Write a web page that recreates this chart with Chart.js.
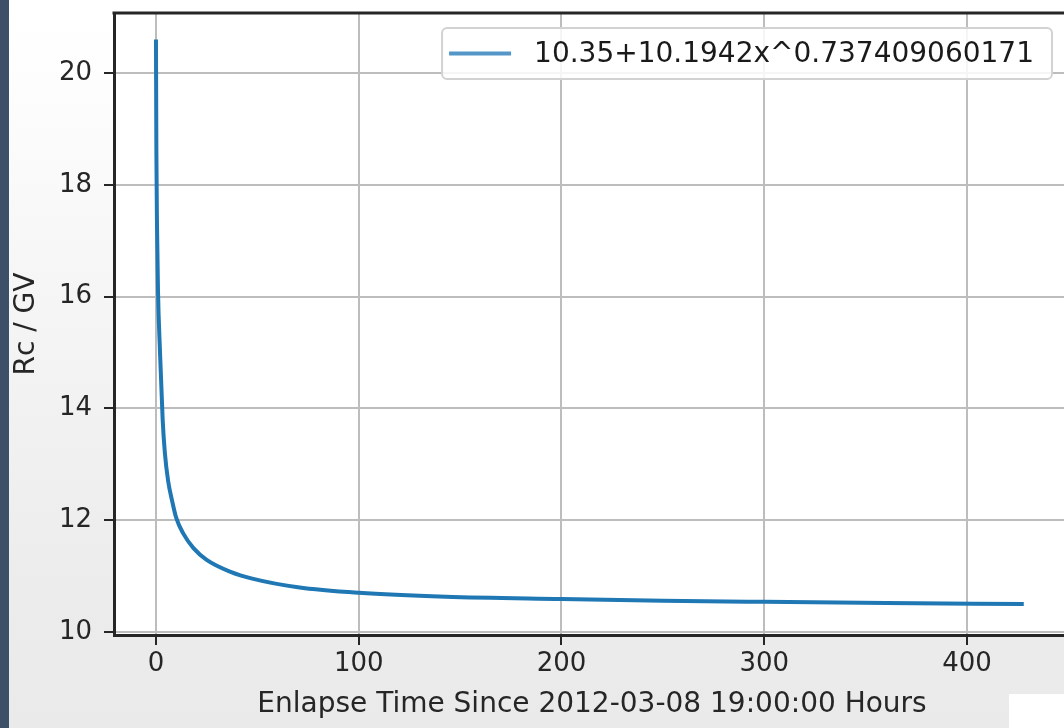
<!DOCTYPE html>
<html>
<head>
<meta charset="utf-8">
<script src="https://cdn.jsdelivr.net/npm/chart.js@4.4.0/dist/chart.umd.min.js"></script>
<style>
  html, body { margin: 0; padding: 0; }
  body {
    width: 1064px; height: 728px; overflow: hidden; position: relative;
    background: linear-gradient(#ffffff 0%, #fdfdfd 11%, #f3f3f3 50%, #ececec 80%, #eaeaea 100%);
  }
  #wrap { position: absolute; left: 0; top: 0; width: 1070px; height: 728px; }
  #strip { position: absolute; left: 0; top: 0; width: 9px; height: 728px; background: #3e4f68; }
  #patch { position: absolute; left: 1009px; top: 694px; width: 55px; height: 34px; background: #fff; }
</style>
</head>
<body>
<div id="wrap"><canvas id="rcChart" width="1070" height="728"></canvas></div>
<div id="strip"></div>
<div id="patch"></div>
<script>
// values
const timeHours = [0, 0.2, 0.5, 1, 2, 3.3, 4.4, 6, 8, 10, 13.5, 18.5, 25, 36.5, 48, 70, 100, 143, 200, 250, 300, 360, 428];
const rcValues = [20.6, 18.6, 17.3, 16.1, 15.0, 13.8, 13.2, 12.7, 12.34, 12.04, 11.76, 11.50, 11.29, 11.08, 10.95, 10.80, 10.70, 10.63, 10.59, 10.56, 10.54, 10.52, 10.50];

const xTickValues = [0, 100, 200, 300, 400];
const yTickValues = [10, 12, 14, 16, 18, 20];

const seriesLabel = "10.35+10.1942x^0.737409060171";
const xTitle = "Enlapse Time Since 2012-03-08 19:00:00 Hours";
const yTitle = "Rc / GV";

const FONT = "DejaVu Sans";
const INK = "#262626";
const GRID = "#bdbdbd";
const LINE = "#1f77b4";

const frameAndLegend = {
  id: "frameAndLegend",
  beforeDraw(chart) {
    const { ctx, chartArea: a } = chart;
    ctx.save();
    ctx.fillStyle = "#fff";
    ctx.fillRect(a.left, a.top, a.right - a.left, a.bottom - a.top);
    ctx.restore();
  },
  afterDraw(chart) {
    const { ctx, chartArea: a } = chart;
    ctx.save();
    // top spine
    ctx.strokeStyle = INK;
    ctx.lineWidth = 3;
    ctx.beginPath();
    ctx.moveTo(a.left - 1.5, a.top);
    ctx.lineTo(a.right, a.top);
    ctx.stroke();

    // legend box, upper right
    const ds = chart.data.datasets[0];
    ctx.font = "28px '" + FONT + "'";
    const textW = ctx.measureText(ds.label).width;
    const boxW = 92 + textW + 18;
    const boxH = 51;
    const bx = a.right - 18 - boxW;
    const by = a.top + 15;
    ctx.beginPath();
    ctx.roundRect(bx, by, boxW, boxH, 5);
    ctx.fillStyle = "rgba(255,255,255,0.85)";
    ctx.fill();
    ctx.strokeStyle = "#d2d2d2";
    ctx.lineWidth = 2;
    ctx.stroke();

    const cy = by + boxH / 2;
    ctx.strokeStyle = "#5596c8";
    ctx.lineWidth = 4;
    ctx.beginPath();
    ctx.moveTo(bx + 7, cy);
    ctx.lineTo(bx + 69, cy);
    ctx.stroke();

    ctx.fillStyle = "#1a1a1a";
    ctx.textBaseline = "middle";
    ctx.textAlign = "left";
    ctx.fillText(ds.label, bx + 92, cy + 1);
    ctx.restore();
  }
};

const points = timeHours.map((t, i) => ({ x: t, y: rcValues[i] }));

new Chart(document.getElementById("rcChart"), {
  type: "line",
  data: {
    datasets: [{
      label: seriesLabel,
      data: points,
      borderColor: LINE,
      borderWidth: 4,
      pointRadius: 0,
      cubicInterpolationMode: "monotone",
      fill: false
    }]
  },
  options: {
    responsive: false,
    animation: false,
    layout: { padding: { top: 13, left: 0, right: 0, bottom: 0 } },
    plugins: {
      legend: { display: false },
      tooltip: { enabled: false }
    },
    scales: {
      x: {
        type: "linear",
        min: -20.7,
        max: 450.8,
        afterBuildTicks: s => { s.ticks = xTickValues.map(v => ({ value: v })); },
        afterFit: s => { s.height = 93; s.paddingLeft = 0; s.paddingRight = 0; },
        ticks: { color: INK, padding: 4, font: { family: FONT, size: 26 } },
        grid: { color: GRID, lineWidth: 2, tickColor: INK, tickWidth: 2, tickLength: 10 },
        border: { color: INK, width: 3 },
        title: {
          display: true, text: xTitle, color: INK,
          font: { family: FONT, size: 28 },
          padding: { top: 0, bottom: 6 }
        }
      },
      y: {
        min: 9.946,
        max: 21.073,
        afterBuildTicks: s => { s.ticks = yTickValues.map(v => ({ value: v })); },
        afterFit: s => { s.width = 114; s.paddingTop = 0; s.paddingBottom = 0; },
        ticks: { color: INK, padding: 12, font: { family: FONT, size: 26 } },
        grid: { color: GRID, lineWidth: 2, tickColor: INK, tickWidth: 2, tickLength: 10 },
        border: { color: INK, width: 3 },
        title: {
          display: true, text: yTitle, color: INK,
          font: { family: FONT, size: 28 },
          padding: { top: 10, bottom: 0 }
        }
      }
    }
  },
  plugins: [frameAndLegend]
});
</script>
</body>
</html>
